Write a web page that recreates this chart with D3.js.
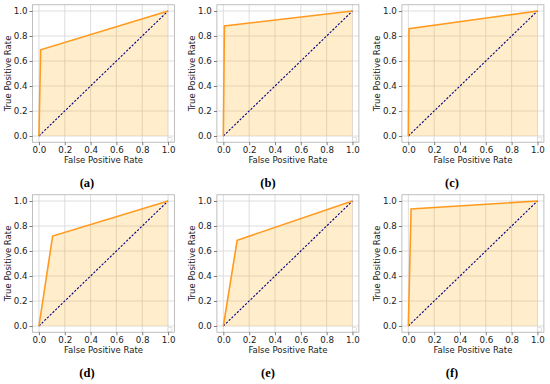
<!DOCTYPE html>
<html><head><meta charset="utf-8">
<script src="https://cdn.jsdelivr.net/npm/d3@7"></script>
<style>
html,body{margin:0;padding:0;background:#fff;}
svg{display:block;}
</style></head>
<body>
<script>
// Data
const panelLabels = ["(a)", "(b)", "(c)", "(d)", "(e)", "(f)"];
const fprA = [0, 0.013, 1], tprA = [0, 0.69, 1];
const fprB = [0, 0.008, 1], tprB = [0, 0.88, 1];
const fprC = [0, 0.005, 1], tprC = [0, 0.858, 1];
const fprD = [0, 0.106, 1], tprD = [0, 0.72, 1];
const fprE = [0, 0.107, 1], tprE = [0, 0.686, 1];
const fprF = [0, 0.021, 1], tprF = [0, 0.936, 1];
const fprs = [fprA, fprB, fprC, fprD, fprE, fprF];
const tprs = [tprA, tprB, tprC, tprD, tprE, tprF];
const tickValues = [0, 0.2, 0.4, 0.6, 0.8, 1.0];
const xLabel = "False Positive Rate";
const yLabel = "True Positive Rate";

const W = 550, H = 384;
const svg = d3.select("body").append("svg").attr("width", W).attr("height", H);

const colLeft = [32.5, 216.9, 401.9];
const boxW = 142;
const rowTop = [4.75, 194.75];
const boxH = 137.5;
const captionX = [87, 268, 452];
const captionY = [187, 377];

const FONT = "'DejaVu Sans', sans-serif";

panelLabels.forEach((lab, i) => {
  const c = i % 3, r = Math.floor(i / 3);
  const x = d3.scaleLinear().domain([-0.05, 1.05]).range([colLeft[c], colLeft[c] + boxW]);
  const y = d3.scaleLinear().domain([-0.05, 1.05]).range([rowTop[r] + boxH, rowTop[r]]);
  const g = svg.append("g");

  // grid
  g.append("g").selectAll("line").data(tickValues).join("line")
    .attr("x1", d => x(d)).attr("x2", d => x(d))
    .attr("y1", y.range()[0]).attr("y2", y.range()[1])
    .attr("stroke", "#d6d6d6").attr("stroke-width", 0.8);
  g.append("g").selectAll("line").data(tickValues).join("line")
    .attr("y1", d => y(d)).attr("y2", d => y(d))
    .attr("x1", x.range()[0]).attr("x2", x.range()[1])
    .attr("stroke", "#d6d6d6").attr("stroke-width", 0.8);

  const pts = fprs[i].map((f, k) => [f, tprs[i][k]]);

  // fill
  const area = d3.area().x(d => x(d[0])).y0(y(0)).y1(d => y(d[1]));
  g.append("path").attr("d", area(pts)).attr("fill", "#ffa500").attr("fill-opacity", 0.2);

  // diagonal
  g.append("path").attr("d", d3.line().x(d => x(d[0])).y(d => y(d[1]))([[0, 0], [1, 1]]))
    .attr("fill", "none").attr("stroke", "#000080").attr("stroke-width", 1.1)
    .attr("stroke-dasharray", "2.2,1.6");

  // roc
  g.append("path").attr("d", d3.line().x(d => x(d[0])).y(d => y(d[1]))(pts))
    .attr("fill", "none").attr("stroke", "#ff9a1f").attr("stroke-width", 1.6);

  // empty legend box
  g.append("rect").attr("x", x(1.05) - 6.5).attr("y", y(-0.05) - 4.5)
    .attr("width", 4).attr("height", 3.5)
    .attr("fill", "#fff").attr("stroke", "#d0d0d0").attr("stroke-width", 0.6);

  // frame
  g.append("rect").attr("x", x.range()[0]).attr("y", y.range()[1])
    .attr("width", boxW).attr("height", boxH)
    .attr("fill", "none").attr("stroke", "#b0b0b0").attr("stroke-width", 0.8);

  // axes
  const xa = g.append("g").attr("transform", `translate(0,${y.range()[0]})`)
    .call(d3.axisBottom(x).tickValues(tickValues).tickFormat(d3.format(".1f")).tickSize(3).tickPadding(1.5));
  const ya = g.append("g").attr("transform", `translate(${x.range()[0]},0)`)
    .call(d3.axisLeft(y).tickValues(tickValues).tickFormat(d3.format(".1f")).tickSize(3).tickPadding(2));
  [xa, ya].forEach(a => {
    a.select(".domain").remove();
    a.selectAll(".tick line").attr("stroke", "#444").attr("stroke-width", 0.7);
    a.selectAll(".tick text").attr("fill", "#222").style("font-family", FONT).style("font-size", "8.7px");
  });

  // labels
  g.append("text").attr("x", (x.range()[0] + x.range()[1]) / 2).attr("y", y.range()[0] + 20.5)
    .attr("text-anchor", "middle").attr("fill", "#222")
    .style("font-family", FONT).style("font-size", "8.5px").text(xLabel);
  g.append("text")
    .attr("transform", `translate(${x.range()[0] - 21.5},${(y.range()[0] + y.range()[1]) / 2}) rotate(-90)`)
    .attr("text-anchor", "middle").attr("fill", "#222")
    .style("font-family", FONT).style("font-size", "8.5px").text(yLabel);

  // caption
  svg.append("text").attr("x", captionX[c]).attr("y", captionY[r])
    .attr("text-anchor", "middle").attr("fill", "#000")
    .style("font-family", "'Liberation Serif', 'DejaVu Serif', serif").style("font-weight", "bold")
    .style("font-size", "12.5px").text(lab);
});
</script>
</body></html>
